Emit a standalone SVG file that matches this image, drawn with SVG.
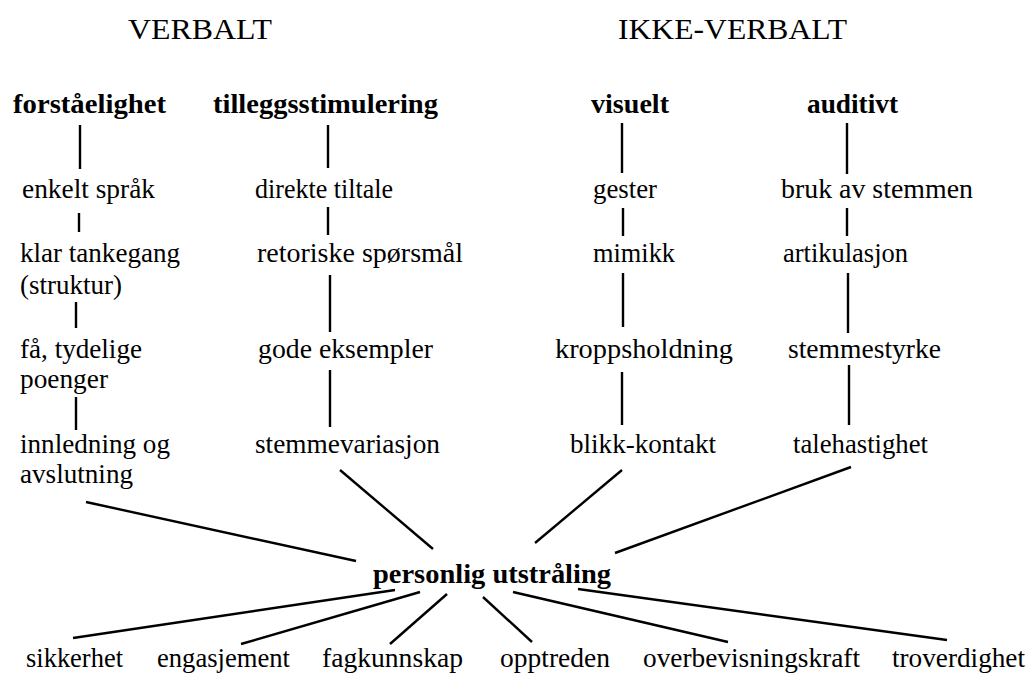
<svg xmlns="http://www.w3.org/2000/svg" width="1030" height="673" viewBox="0 0 1030 673">
<style>
.conn{stroke:#000;stroke-width:2.4;stroke-linecap:butt}
</style>
<rect width="1030" height="673" fill="#fff"/>
<g id="headings" font-family="Liberation Serif" font-size="30" fill="#000">
<text x="128" y="39" textLength="144" lengthAdjust="spacingAndGlyphs">VERBALT</text>
<text x="618" y="39" textLength="229" lengthAdjust="spacingAndGlyphs">IKKE-VERBALT</text>
</g>
<g id="categories" font-family="Liberation Serif" font-size="28" font-weight="bold" fill="#000">
<g id="n-forstaelighet"><text x="13" y="113" textLength="153" lengthAdjust="spacingAndGlyphs">forståelighet</text></g>
<g id="n-tilleggsstimulering"><text x="213" y="113" textLength="225" lengthAdjust="spacingAndGlyphs">tilleggsstimulering</text></g>
<g id="n-visuelt"><text x="591" y="113" textLength="78" lengthAdjust="spacingAndGlyphs">visuelt</text></g>
<g id="n-auditivt"><text x="807" y="113" textLength="91" lengthAdjust="spacingAndGlyphs">auditivt</text></g>
<g id="n-personlig"><text x="373" y="583" textLength="238" lengthAdjust="spacingAndGlyphs">personlig utstråling</text></g>
</g>
<g id="items" font-family="Liberation Serif" font-size="27" fill="#000">
<g id="n-enkelt"><text x="22" y="198" textLength="133" lengthAdjust="spacingAndGlyphs">enkelt språk</text></g>
<g id="n-direkte"><text x="255" y="198" textLength="138" lengthAdjust="spacingAndGlyphs">direkte tiltale</text></g>
<g id="n-gester"><text x="593" y="198" textLength="64" lengthAdjust="spacingAndGlyphs">gester</text></g>
<g id="n-bruk"><text x="781" y="198" textLength="192" lengthAdjust="spacingAndGlyphs">bruk av stemmen</text></g>
<g id="n-klar"><text x="20" y="262" textLength="160" lengthAdjust="spacingAndGlyphs">klar tankegang</text><text x="20" y="294" textLength="102" lengthAdjust="spacingAndGlyphs">(struktur)</text></g>
<g id="n-retoriske"><text x="257" y="262" textLength="206" lengthAdjust="spacingAndGlyphs">retoriske spørsmål</text></g>
<g id="n-mimikk"><text x="593" y="262" textLength="82" lengthAdjust="spacingAndGlyphs">mimikk</text></g>
<g id="n-artikulasjon"><text x="783" y="262" textLength="125" lengthAdjust="spacingAndGlyphs">artikulasjon</text></g>
<g id="n-fa"><text x="20" y="358" textLength="122" lengthAdjust="spacingAndGlyphs">få, tydelige</text><text x="20" y="388" textLength="88" lengthAdjust="spacingAndGlyphs">poenger</text></g>
<g id="n-gode"><text x="258" y="358" textLength="175" lengthAdjust="spacingAndGlyphs">gode eksempler</text></g>
<g id="n-kroppsholdning"><text x="555" y="358" textLength="178" lengthAdjust="spacingAndGlyphs">kroppsholdning</text></g>
<g id="n-stemmestyrke"><text x="788" y="358" textLength="153" lengthAdjust="spacingAndGlyphs">stemmestyrke</text></g>
<g id="n-innledning"><text x="20" y="453" textLength="150" lengthAdjust="spacingAndGlyphs">innledning og</text><text x="20" y="483" textLength="113" lengthAdjust="spacingAndGlyphs">avslutning</text></g>
<g id="n-stemmevariasjon"><text x="255" y="453" textLength="185" lengthAdjust="spacingAndGlyphs">stemmevariasjon</text></g>
<g id="n-blikk"><text x="570" y="453" textLength="146" lengthAdjust="spacingAndGlyphs">blikk-kontakt</text></g>
<g id="n-talehastighet"><text x="793" y="453" textLength="135" lengthAdjust="spacingAndGlyphs">talehastighet</text></g>
<g id="n-sikkerhet"><text x="26" y="667" textLength="97" lengthAdjust="spacingAndGlyphs">sikkerhet</text></g>
<g id="n-engasjement"><text x="157" y="667" textLength="133" lengthAdjust="spacingAndGlyphs">engasjement</text></g>
<g id="n-fagkunnskap"><text x="322" y="667" textLength="141" lengthAdjust="spacingAndGlyphs">fagkunnskap</text></g>
<g id="n-opptreden"><text x="500" y="667" textLength="110" lengthAdjust="spacingAndGlyphs">opptreden</text></g>
<g id="n-overbevisningskraft"><text x="643" y="667" textLength="217" lengthAdjust="spacingAndGlyphs">overbevisningskraft</text></g>
<g id="n-troverdighet"><text x="892" y="667" textLength="133" lengthAdjust="spacingAndGlyphs">troverdighet</text></g>
</g>
<g id="connectors" class="conn">
<line x1="80" y1="125" x2="80" y2="169"/>
<line x1="79" y1="213" x2="79" y2="232"/>
<line x1="76" y1="302" x2="76" y2="328"/>
<line x1="76" y1="397" x2="76" y2="430"/>
<line x1="328" y1="125" x2="328" y2="168"/>
<line x1="328" y1="207" x2="328" y2="235"/>
<line x1="330" y1="275" x2="330" y2="332"/>
<line x1="330" y1="370" x2="330" y2="427"/>
<line x1="622" y1="123" x2="622" y2="173"/>
<line x1="623" y1="208" x2="623" y2="236"/>
<line x1="623" y1="273" x2="623" y2="327"/>
<line x1="622" y1="372" x2="622" y2="425"/>
<line x1="847" y1="123" x2="847" y2="174"/>
<line x1="847" y1="208" x2="847" y2="236"/>
<line x1="848" y1="273" x2="848" y2="333"/>
<line x1="849" y1="365" x2="849" y2="425"/>
<line x1="86" y1="502" x2="356" y2="561"/>
<line x1="340" y1="470" x2="433" y2="549"/>
<line x1="622" y1="470" x2="535" y2="543"/>
<line x1="851" y1="467" x2="615" y2="553"/>
<line x1="395" y1="590" x2="73" y2="638"/>
<line x1="420" y1="592" x2="241" y2="644"/>
<line x1="447" y1="594" x2="390" y2="644"/>
<line x1="483" y1="597" x2="532" y2="642"/>
<line x1="513" y1="592" x2="728" y2="642"/>
<line x1="578" y1="589" x2="947" y2="640"/>
</g>
</svg>
